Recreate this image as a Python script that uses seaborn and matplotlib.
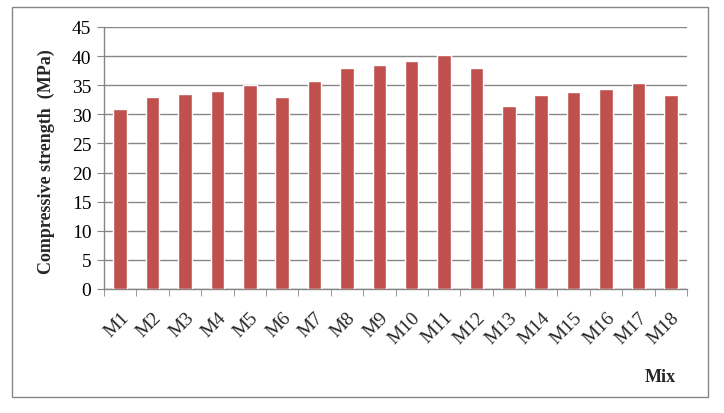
import numpy as np
import pandas as pd
import matplotlib
matplotlib.use("Agg")
import matplotlib.pyplot as plt
import seaborn as sns
from matplotlib.patches import Rectangle

mixes = ["M1", "M2", "M3", "M4", "M5", "M6", "M7", "M8", "M9", "M10",
         "M11", "M12", "M13", "M14", "M15", "M16", "M17", "M18"]
strength = [31.0, 33.0, 33.5, 34.0, 35.0, 33.0, 35.7, 38.0, 38.5, 39.2,
            40.2, 38.0, 31.4, 33.3, 33.8, 34.4, 35.4, 33.3]
y_ticks = [0, 5, 10, 15, 20, 25, 30, 35, 40, 45]

df = pd.DataFrame({"Mix": mixes, "Strength": strength})

sns.set_style("white")
plt.rcParams["font.family"] = ["Liberation Serif", "DejaVu Serif"]

fig = plt.figure(figsize=(7.24, 4.14), dpi=100)
ax = fig.add_axes([104 / 724, 1 - 290 / 414, (687 - 104) / 724, (290 - 28) / 414])

sns.barplot(data=df, x="Mix", y="Strength", color="#C0504D", width=0.42,
            saturation=1, ax=ax, zorder=3)

ax.set_ylim(0, 45)
ax.set_xlim(-0.5, len(mixes) - 0.5)
ax.set_yticks(y_ticks)
ax.yaxis.grid(True, color="#868686", linewidth=1, zorder=0)
ax.xaxis.grid(False)
ax.tick_params(axis="y", labelsize=14, length=5, color="#868686", left=True,
               pad=4, labelcolor="black")
ax.set_xticks(range(len(mixes)))
ax.set_xticklabels(mixes, rotation=45, ha="right", rotation_mode="anchor", fontsize=14)
ax.set_xticks(np.arange(-0.5, len(mixes), 1), minor=True)
ax.tick_params(axis="x", which="major", length=0, pad=14)
ax.tick_params(axis="x", which="minor", length=5, color="#868686", bottom=True)

for side in ["top", "right"]:
    ax.spines[side].set_visible(False)
for side in ["left", "bottom"]:
    ax.spines[side].set_color("#868686")
    ax.spines[side].set_linewidth(1)

ax.set_xlabel("")
ax.set_ylabel("")
fig.text(46 / 724, 1 - 162 / 414, "Compressive strength  (MPa)", rotation=90,
         ha="center", va="center", fontsize=13, fontweight="bold")
fig.text(660 / 724, 1 - 378 / 414, "Mix", ha="center", va="center",
         fontsize=13, fontweight="bold")

fig.patches.append(Rectangle((12 / 724, 1 - 398 / 414), (708 - 12) / 724, (398 - 8) / 414,
                             transform=fig.transFigure, fill=False,
                             edgecolor="#868686", linewidth=1))

fig.savefig("out.png", dpi=100)
